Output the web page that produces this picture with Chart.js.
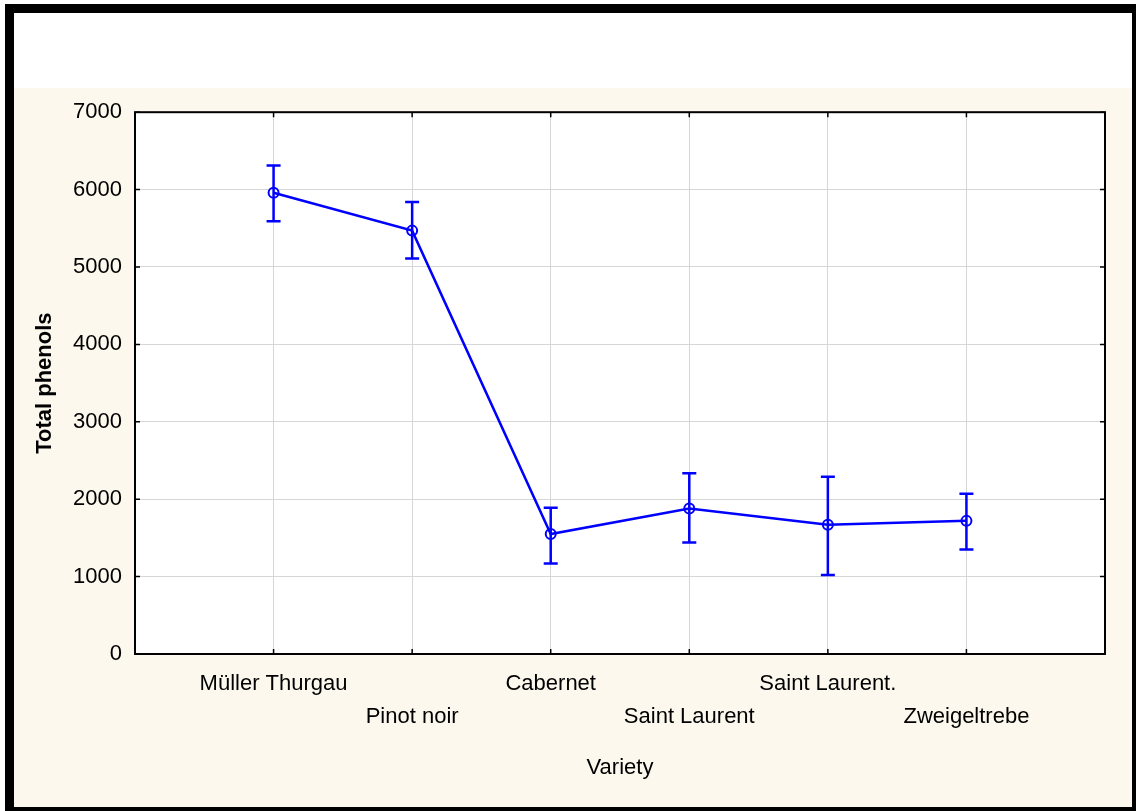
<!DOCTYPE html>
<html>
<head>
<meta charset="utf-8">
<script src="https://cdn.jsdelivr.net/npm/chart.js@4/dist/chart.umd.min.js"></script>
<style>
  html, body { margin: 0; padding: 0; background: #fff; }
  #frame {
    position: absolute; left: 5px; top: 4px; width: 1131px; height: 807px;
    box-sizing: border-box; background: #fdf8ee;
    border-left: 9px solid #000; border-top: 9px solid #000;
    border-right: 4px solid #000; border-bottom: 4px solid #000;
  }
  #topband { position: absolute; left: 0; top: 0; width: 100%; height: 75px; background: #fff; }
  #wrap { position: absolute; left: 0; top: 73px; width: 1118px; height: 721px; }
</style>
</head>
<body>
<div id="frame">
  <div id="topband"></div>
  <div id="wrap"><canvas id="chart"></canvas></div>
</div>
<script>
// varieties and their total phenol means with +/- error limits
let varieties = ["Müller Thurgau", "Pinot noir", "Cabernet", "Saint Laurent", "Saint Laurent.", "Zweigeltrebe"];
let means = [5960, 5470, 1550, 1880, 1670, 1720];
let upper = [6310, 5840, 1890, 2335, 2290, 2070];
let lower = [5590, 5110, 1170, 1440, 1020, 1350];
let yTicks = [0, 1000, 2000, 3000, 4000, 5000, 6000, 7000];

let blue = "#0000ff";
let points = varieties.map((v, i) => ({ x: i + 1, y: means[i] }));

// white plot background + black frame
let plotBox = {
  id: "plotBox",
  beforeDraw(chart) {
    let a = chart.chartArea, ctx = chart.ctx;
    ctx.save();
    ctx.fillStyle = "#fff";
    ctx.fillRect(a.left, a.top, a.right - a.left, a.bottom - a.top);
    ctx.restore();
  },
  afterDatasetsDraw(chart) {
    let a = chart.chartArea, ctx = chart.ctx;
    ctx.save();
    ctx.strokeStyle = "#000";
    ctx.lineWidth = 2;
    ctx.strokeRect(a.left, a.top, a.right - a.left, a.bottom - a.top);
    // small inner ticks
    ctx.lineWidth = 1.5;
    let xs = chart.scales.x, ys = chart.scales.y;
    for (let i = 0; i < varieties.length; i++) {
      let px = xs.getPixelForValue(i + 1);
      ctx.beginPath();
      ctx.moveTo(px, a.bottom); ctx.lineTo(px, a.bottom - 5);
      ctx.moveTo(px, a.top); ctx.lineTo(px, a.top + 5);
      ctx.stroke();
    }
    for (let t of yTicks) {
      let py = ys.getPixelForValue(t);
      ctx.beginPath();
      ctx.moveTo(a.left, py); ctx.lineTo(a.left + 5, py);
      ctx.moveTo(a.right, py); ctx.lineTo(a.right - 5, py);
      ctx.stroke();
    }
    ctx.restore();
  }
};

// error bars drawn from the data arrays through the scales
let errorBars = {
  id: "errorBars",
  afterDatasetsDraw(chart) {
    let ctx = chart.ctx, xs = chart.scales.x, ys = chart.scales.y;
    ctx.save();
    ctx.strokeStyle = blue;
    ctx.lineWidth = 2.5;
    for (let i = 0; i < varieties.length; i++) {
      let px = xs.getPixelForValue(i + 1);
      let top = ys.getPixelForValue(upper[i]);
      let bot = ys.getPixelForValue(lower[i]);
      ctx.beginPath();
      ctx.moveTo(px, top); ctx.lineTo(px, bot);
      ctx.moveTo(px - 7, top); ctx.lineTo(px + 7, top);
      ctx.moveTo(px - 7, bot); ctx.lineTo(px + 7, bot);
      ctx.stroke();
    }
    ctx.restore();
  }
};

new Chart(document.getElementById("chart"), {
  type: "line",
  data: {
    datasets: [{
      data: points,
      borderColor: blue,
      borderWidth: 2.5,
      pointRadius: 5,
      pointBorderWidth: 2,
      pointBorderColor: blue,
      pointBackgroundColor: "rgba(0,0,0,0)",
      tension: 0
    }]
  },
  plugins: [plotBox, errorBars],
  options: {
    responsive: true,
    maintainAspectRatio: false,
    animation: false,
    layout: { padding: { left: 0, top: 23, right: 27, bottom: 0 } },
    plugins: { legend: { display: false }, tooltip: { enabled: false } },
    scales: {
      x: {
        type: "linear",
        min: 0, max: 7,
        afterBuildTicks: (s) => { s.ticks = varieties.map((v, i) => ({ value: i + 1 })); },
        afterFit: (s) => { s.height = 153; },
        grid: { color: "#d6d6d6", lineWidth: 1, drawTicks: false },
        border: { display: false },
        ticks: {
          autoSkip: false, maxRotation: 0, padding: 13,
          color: "#000",
          font: { family: "Liberation Sans", size: 22, lineHeight: 1.5 },
          callback: (v) => {
            let i = Math.round(v) - 1;
            return i % 2 === 0 ? [varieties[i], ""] : ["", varieties[i]];
          }
        },
        title: {
          display: true, text: "Variety", color: "#000",
          font: { family: "Liberation Sans", size: 22 },
          padding: { top: 0, bottom: 26 }
        }
      },
      y: {
        min: 0, max: 7000,
        afterBuildTicks: (s) => { s.ticks = yTicks.map((v) => ({ value: v })); },
        afterFit: (s) => { s.width = 121; },
        grid: { color: "#d6d6d6", lineWidth: 1, drawTicks: false },
        border: { display: false },
        ticks: {
          padding: 13, color: "#000",
          font: { family: "Liberation Sans", size: 22 },
          callback: (v) => String(v)
        },
        title: {
          display: true, text: "Total phenols", color: "#000",
          font: { family: "Liberation Sans", size: 22, weight: "bold" },
          padding: { top: 18, bottom: 0 }
        }
      }
    }
  }
});
</script>
</body>
</html>
